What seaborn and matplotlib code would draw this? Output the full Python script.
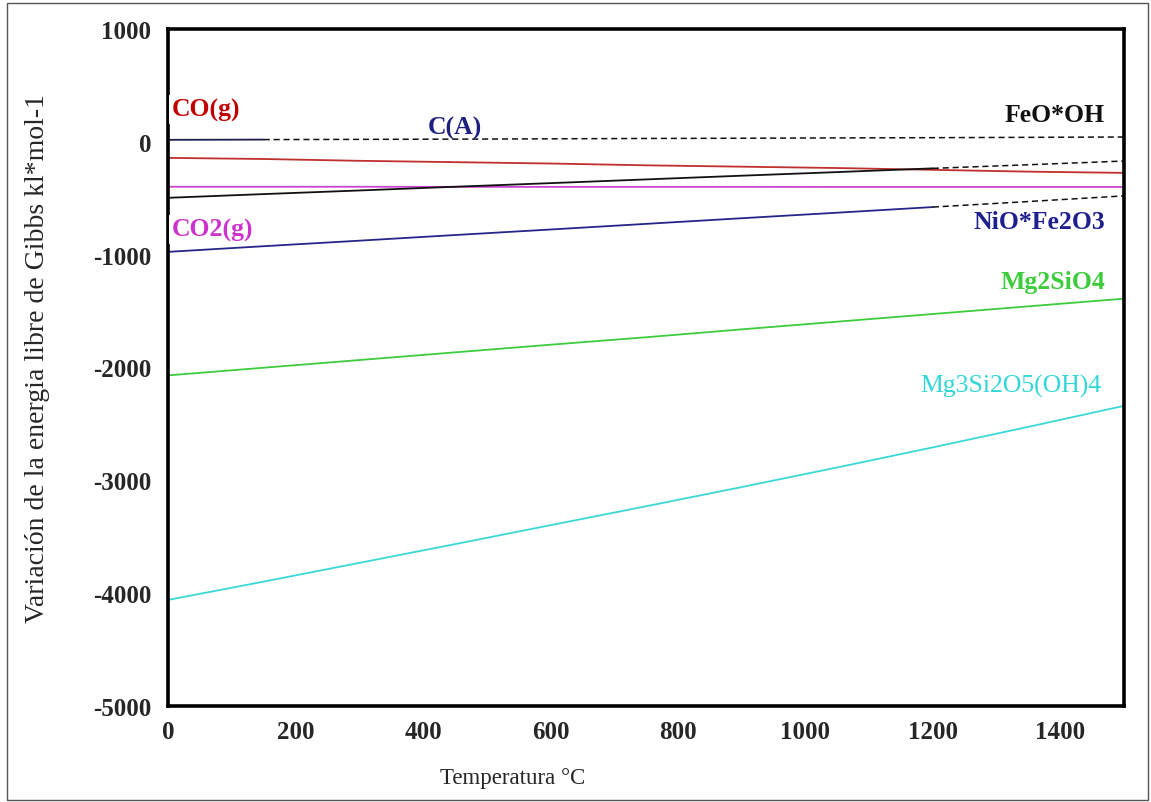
import numpy as np
import pandas as pd
import matplotlib
matplotlib.use("Agg")
import matplotlib.pyplot as plt
from matplotlib.patches import Rectangle
import seaborn as sns

# ---- data ----
temperature = [0, 150, 300, 450, 600, 750, 900, 1050, 1200, 1350, 1500]
g_C_A      = [18, 20, 22, 24, 27, 30, 32, 35, 37, 40, 43]
g_CO       = [-142, -152, -168, -180, -192, -208, -220, -232, -248, -264, -275]
g_CO2      = [-398, -398, -398, -399, -399, -399, -399, -400, -400, -400, -400]
g_FeOOH    = [-496, -463, -431, -398, -366, -333, -300, -268, -235, -203, -170]
g_NiOFe2O3 = [-975, -925, -876, -826, -777, -727, -677, -628, -578, -529, -479]
g_Mg2SiO4  = [-2070, -2002, -1934, -1866, -1798, -1732, -1662, -1594, -1526, -1458, -1390]
g_Mg3Si2O5OH4 = [-4060, -3898, -3732, -3566, -3398, -3230, -3060, -2886, -2708, -2526, -2340]

y_ticks = [1000, 0, -1000, -2000, -3000, -4000, -5000]
x_ticks = [0, 200, 400, 600, 800, 1000, 1200, 1400]

series = {
    "C(A)": g_C_A,
    "CO(g)": g_CO,
    "CO2(g)": g_CO2,
    "FeO*OH": g_FeOOH,
    "NiO*Fe2O3": g_NiOFe2O3,
    "Mg2SiO4": g_Mg2SiO4,
    "Mg3Si2O5(OH)4": g_Mg3Si2O5OH4,
}
# temperature limit of the solid (tabulated) part; beyond it drawn dashed
solid_until = {"C(A)": 150, "CO(g)": 1500, "CO2(g)": 1500, "FeO*OH": 1200,
               "NiO*Fe2O3": 1200, "Mg2SiO4": 1500, "Mg3Si2O5(OH)4": 1500}
colors = {"C(A)": "#1c1c50", "CO(g)": "#c0302e", "CO2(g)": "#cc44cc",
          "FeO*OH": "#111111", "NiO*Fe2O3": "#26268a", "Mg2SiO4": "#3ccc3c",
          "Mg3Si2O5(OH)4": "#3ad8d8"}

rows = []
for name, vals in series.items():
    for t, v in zip(temperature, vals):
        rows.append({"T": t, "G": v, "species": name})
df = pd.DataFrame(rows)

sns.set_style("white")
plt.rcParams["font.family"] = ["Liberation Serif", "DejaVu Serif"]

fig = plt.figure(figsize=(11.51, 8.03), dpi=100)
ax = fig.add_axes([0.146, 0.1196, 0.8305, 0.843])

for name in series:
    d = df[df.species == name]
    lim = solid_until[name]
    solid = d[d["T"] <= lim]
    dashed = d[d["T"] >= lim]
    sns.lineplot(data=solid, x="T", y="G", color=colors[name], linewidth=1.3,
                 ax=ax, legend=False, estimator=None, sort=True)
    if len(dashed) > 1:
        sns.lineplot(data=dashed, x="T", y="G", color="#111111", linewidth=1.1,
                     linestyle=(0, (4, 2.5)), ax=ax, legend=False,
                     estimator=None, sort=True)

ax.set_xlim(0, 1500)
ax.set_ylim(-5000, 1000)
ax.set_xticks(x_ticks)
ax.set_yticks(y_ticks)
ax.set_xticklabels([str(v) for v in x_ticks], fontsize=18, fontweight="bold")
ax.set_yticklabels([str(v) for v in y_ticks], fontsize=18, fontweight="bold")
ax.tick_params(axis="both", length=0)
ax.tick_params(axis="y", pad=12)
ax.tick_params(axis="x", pad=10)
for sp in ax.spines.values():
    sp.set_visible(True)
    sp.set_linewidth(2.6)
    sp.set_color("black")

ax.set_xlabel("Temperatura °C", fontsize=16.5)
ax.set_ylabel("Variación de la energia libre de Gibbs kl*mol-1", fontsize=20)
ax.xaxis.set_label_coords(0.36, -0.09)
ax.yaxis.set_label_coords(-0.124, 0.515)

lab = dict(fontsize=18.5, fontweight="bold")
white = dict(facecolor="white", edgecolor="none", pad=2)
ax.text(6, 290, "CO(g)", color="#c00000", ha="left", va="center",
        bbox=white, clip_on=False, zorder=5, **lab)
ax.text(450, 130, "C(A)", color="#1f1f80", ha="center", va="center", **lab)
ax.text(1470, 245, "FeO*OH", color="#111111", ha="right", va="center", **lab)
ax.text(6, -775, "CO2(g)", color="#cc33cc", ha="left", va="center",
        bbox=white, clip_on=False, zorder=5, **lab)
ax.text(1470, -705, "NiO*Fe2O3", color="#1f1f8f", ha="right", va="center", **lab)
ax.text(1470, -1241, "Mg2SiO4", color="#3ccc3c", ha="right", va="center", **lab)
ax.text(1465, -2163, "Mg3Si2O5(OH)4", color="#33d6d6", ha="right",
        va="center", fontsize=18.5)

fig.patches.append(Rectangle((0.006, 0.003), 0.991, 0.992, transform=fig.transFigure,
                             fill=False, edgecolor="#555555", linewidth=1.0))

fig.savefig("out.png", dpi=100)
